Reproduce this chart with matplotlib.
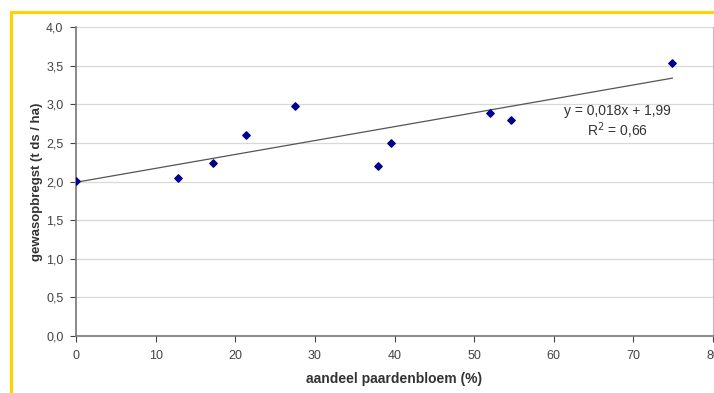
import numpy as np
import matplotlib.pyplot as plt
from matplotlib.lines import Line2D

# data
aandeel = [0, 12.8, 17.2, 21.4, 27.5, 37.9, 39.6, 52.0, 54.6, 74.9]
opbrengst = [2.01, 2.05, 2.24, 2.60, 2.98, 2.20, 2.50, 2.89, 2.80, 3.53]
helling = 0.018
intercept = 1.99
x_ticks = [0, 10, 20, 30, 40, 50, 60, 70, 80]
y_ticks = [0.0, 0.5, 1.0, 1.5, 2.0, 2.5, 3.0, 3.5, 4.0]

plt.rcParams['font.family'] = ['Liberation Sans', 'DejaVu Sans']

fig = plt.figure(figsize=(7.14, 3.93), dpi=100)
ax = fig.add_axes([76 / 714, 1 - 336 / 393, 637 / 714, 309 / 393])

# yellow page border (top and left)
fig.add_artist(Line2D([11 / 714, 1], [1 - 12 / 393, 1 - 12 / 393],
                      color='#FFD200', lw=2.2, transform=fig.transFigure))
fig.add_artist(Line2D([11 / 714, 11 / 714], [0, 1 - 12 / 393],
                      color='#FFD200', lw=2.2, transform=fig.transFigure))

ax.scatter(aandeel, opbrengst, marker='D', s=14, color='#00008B', zorder=3)

x_lijn = np.array([0, max(aandeel)])
ax.plot(x_lijn, helling * x_lijn + intercept, color='#555555', lw=0.9, zorder=2)

ax.text(68.0, 2.91, 'y = 0,018x + 1,99', fontsize=10, color='#333333', ha='center', va='center')
ax.text(68.0, 2.66, 'R$^2$ = 0,66', fontsize=10, color='#333333', ha='center', va='center')

ax.set_xlim(0, 80)
ax.set_ylim(0, 4.0)
ax.set_xticks(x_ticks)
ax.set_yticks(y_ticks)
ax.set_xticklabels([str(t) for t in x_ticks])
ax.set_yticklabels([f'{t:.1f}'.replace('.', ',') for t in y_ticks])
ax.tick_params(labelsize=9, colors='#444444', length=4, width=0.8)
ax.tick_params(axis='x', pad=6)
ax.tick_params(axis='y', pad=5)

ax.grid(axis='y', color='#d9d9d9', lw=0.9)
ax.set_axisbelow(True)
for side in ['left', 'bottom']:
    ax.spines[side].set_color('#777777')
    ax.spines[side].set_linewidth(1.2)
ax.spines['right'].set_color('#bbbbbb')
ax.spines['top'].set_visible(False)

ax.set_xlabel('aandeel paardenbloem (%)', fontsize=10, fontweight='bold', color='#333333', labelpad=7)
ax.set_ylabel('gewasopbregst (t ds / ha)', fontsize=9.5, fontweight='bold', color='#333333', labelpad=2)

fig.savefig('out.png', dpi=100, facecolor='white')
